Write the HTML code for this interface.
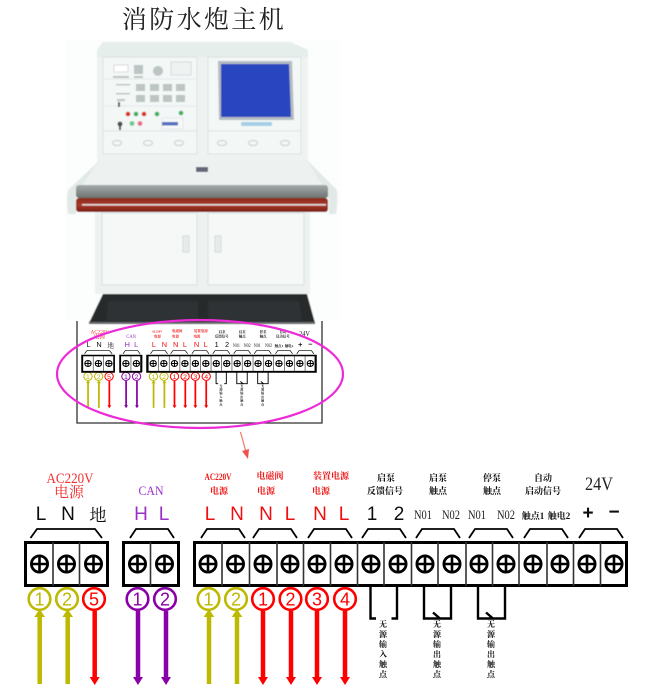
<!DOCTYPE html>
<html><head><meta charset="utf-8"><style>
html,body{margin:0;padding:0;background:#fff;width:650px;height:696px;overflow:hidden}
svg{display:block}
.s{font-family:"Liberation Serif","Noto Serif CJK SC",serif}
.a{font-family:"Liberation Sans","Noto Sans CJK SC",sans-serif}
</style></head><body>
<svg width="650" height="696" viewBox="0 0 650 696" xmlns="http://www.w3.org/2000/svg">
<defs>
<filter id="b1" x="-5%" y="-5%" width="110%" height="110%"><feGaussianBlur stdDeviation="0.6"/></filter>
<filter id="b2" x="-5%" y="-5%" width="110%" height="110%"><feGaussianBlur stdDeviation="0.35"/></filter>
<filter id="b3" x="-2%" y="-2%" width="104%" height="104%"><feGaussianBlur stdDeviation="0.3"/></filter>
<linearGradient id="red" x1="0" y1="0" x2="0" y2="1"><stop offset="0" stop-color="#8a2a1c"/><stop offset=".5" stop-color="#a83a28"/><stop offset="1" stop-color="#7a2016"/></linearGradient>
<linearGradient id="glass" x1="0" y1="0" x2="0" y2="1"><stop offset="0" stop-color="#a4abaa"/><stop offset="1" stop-color="#6c7371"/></linearGradient>
<g id="sc"><circle r="8.100" fill="none" stroke="#000" stroke-width="2.800"/><path d="M-8 0H8M0-8V8" stroke="#000" stroke-width="2.600"/></g>
<path id="br" d="M0 9L6 0H38L44 9" fill="none" stroke="#000" stroke-width="1.800"/>

<g id="d">
<g class="s" text-anchor="middle">
<text x="70" y="483" font-size="15" fill="#f03030" textLength="47" lengthAdjust="spacingAndGlyphs">AC220V</text>
<text x="69" y="497" font-size="15" fill="#f03030">电源</text>
<text x="151" y="495" font-size="13" fill="#9b30c8" textLength="25" lengthAdjust="spacingAndGlyphs">CAN</text>
<g font-size="9" fill="#f01818" font-weight="bold">
<text x="218" y="480" textLength="27" lengthAdjust="spacingAndGlyphs">AC220V</text>
<text x="219" y="494">电源</text>
<text x="270" y="479">电磁阀</text>
<text x="266" y="494">电源</text>
<text x="331" y="479">装置电源</text>
<text x="321" y="494">电源</text>
</g>
<g font-size="9" fill="#111" font-weight="bold">
<text x="386" y="481">启泵</text><text x="385" y="494">反馈信号</text>
<text x="438" y="481">启泵</text><text x="438" y="494">触点</text>
<text x="492" y="481">停泵</text><text x="492" y="494">触点</text>
<text x="543" y="481">自动</text><text x="543" y="494">启动信号</text>
</g>
<text x="599" y="490" font-size="19" fill="#222" textLength="28" lengthAdjust="spacingAndGlyphs">24V</text>
<text x="98" y="521" font-size="17" fill="#111">地</text>
<g font-size="13" fill="#222">
<text x="423" y="519" textLength="18" lengthAdjust="spacingAndGlyphs">N01</text>
<text x="451" y="519" textLength="18" lengthAdjust="spacingAndGlyphs">N02</text>
<text x="477" y="519" textLength="18" lengthAdjust="spacingAndGlyphs">N01</text>
<text x="506" y="519" textLength="18" lengthAdjust="spacingAndGlyphs">N02</text>
</g>
<g font-size="9" fill="#111" font-weight="bold">
<text x="533" y="519">触点1</text><text x="559" y="519">触电2</text>
</g>
</g>
<g class="a" text-anchor="middle" font-size="19">
<g fill="#111"><text x="41" y="520">L</text><text x="68" y="520">N</text><text x="372" y="520">1</text><text x="399" y="520">2</text>
<text x="588" y="519" font-weight="bold">+</text><text x="614" y="518" font-weight="bold">−</text></g>
<g fill="#9b30c8"><text x="141" y="520">H</text><text x="164" y="520">L</text></g>
<g fill="#f01010"><text x="210" y="520">L</text><text x="237" y="520">N</text><text x="266" y="520">N</text><text x="290" y="520">L</text><text x="320" y="520">N</text><text x="344" y="520">L</text></g>
</g>
<path d="M30.500 538L37 529H95L102 538" fill="none" stroke="#000" stroke-width="1.800"/>
<use href="#br" x="130" y="529"/><use href="#br" x="201" y="529"/><use href="#br" x="253" y="529"/><use href="#br" x="308" y="529"/><use href="#br" x="362" y="529"/><use href="#br" x="416" y="529"/><use href="#br" x="469" y="529"/><use href="#br" x="524" y="529"/><use href="#br" x="579" y="529"/>
<g fill="#fff" stroke="#000" stroke-width="3">
<rect x="25.500" y="542.500" width="82" height="43"/>
<rect x="123.500" y="542.500" width="55" height="43"/>
<rect x="194.500" y="542.500" width="432" height="43"/>
</g>
<path d="M53 542V586M79.500 542V586M150.500 542V586M222 542V586M249.500 542V586M277 542V586M303.500 542V586M330.500 542V586M357.500 542V586M384 542V586M411.500 542V586M438 542V586M466 542V586M492.500 542V586M519 542V586M547 542V586M573.500 542V586M600.500 542V586" stroke="#333" stroke-width="1.600"/>
<use href="#sc" x="39.500" y="564"/><use href="#sc" x="66.500" y="564"/><use href="#sc" x="93.500" y="564"/>
<use href="#sc" x="137.500" y="564"/><use href="#sc" x="164.500" y="564"/>
<use href="#sc" x="208" y="564"/><use href="#sc" x="235.500" y="564"/><use href="#sc" x="263" y="564"/><use href="#sc" x="290" y="564"/><use href="#sc" x="317" y="564"/><use href="#sc" x="344" y="564"/><use href="#sc" x="371" y="564"/><use href="#sc" x="398" y="564"/><use href="#sc" x="425" y="564"/><use href="#sc" x="452" y="564"/><use href="#sc" x="479" y="564"/><use href="#sc" x="506" y="564"/><use href="#sc" x="533" y="564"/><use href="#sc" x="560" y="564"/><use href="#sc" x="587" y="564"/><use href="#sc" x="614" y="564"/>
<g fill="none" stroke-width="4.500">
<path d="M39.700 684V614M67.700 684V614M209 684V614M237 684V614" stroke="#bdb900"/>
<path d="M94.700 611V678M263 611V678M291 611V678M317 611V678M345 611V678" stroke="#ff0000"/>
<path d="M138 611V678M166 611V678" stroke="#8a00a8"/>
</g>
<g fill="#bdb900"><path d="M39.700 609L45 617H34.400ZM67.700 609L73 617H62.400ZM209 609L214.300 617H203.700ZM237 609L242.300 617H231.700Z"/></g>
<g fill="#ff0000"><path d="M94.700 685L89.700 677H99.700ZM263 685L258 677H268ZM291 685L286 677H296ZM317 685L312 677H322ZM345 685L340 677H350Z"/></g>
<g fill="#8a00a8"><path d="M138 685L133 677H143ZM166 685L161 677H171Z"/></g>
<g fill="#fff" stroke-width="2.600">
<g stroke="#bdb900"><circle cx="39.500" cy="599" r="10.800"/><circle cx="67" cy="599" r="10.800"/><circle cx="208.500" cy="599" r="10.800"/><circle cx="236" cy="599" r="10.800"/></g>
<g stroke="#8a00a8"><circle cx="137.500" cy="599" r="10.800"/><circle cx="165" cy="599" r="10.800"/></g>
<g stroke="#ff0000"><circle cx="94" cy="599" r="10.800"/><circle cx="263" cy="599" r="10.800"/><circle cx="290.500" cy="599" r="10.800"/><circle cx="317" cy="599" r="10.800"/><circle cx="345" cy="599" r="10.800"/></g>
</g>
<g class="a" text-anchor="middle" font-size="18">
<g fill="#bdb900"><text x="39.500" y="605.500">1</text><text x="67" y="605.500">2</text><text x="208.500" y="605.500">1</text><text x="236" y="605.500">2</text></g>
<g fill="#8a00a8"><text x="137.500" y="605.500">1</text><text x="165" y="605.500">2</text></g>
<g fill="#ff0000"><text x="94" y="605.500">5</text><text x="263" y="605.500">1</text><text x="290.500" y="605.500">2</text><text x="317" y="605.500">3</text><text x="345" y="605.500">4</text></g>
</g>
<g fill="none" stroke="#000" stroke-width="2.400">
<path d="M370.500 586V618.500H376M397 586V618.500H391.500"/>
<path d="M424 586V618.500H451V586M433 612.500L440 618.500"/>
<path d="M478 586V618.500H505V586M486 612.500L493 618.500"/>
</g>
<g class="s" text-anchor="middle" font-size="8" fill="#111" font-weight="bold">
<text x="383" y="627">无</text><text x="383" y="637">源</text><text x="383" y="647">输</text><text x="383" y="657">入</text><text x="383" y="667">触</text><text x="383" y="677">点</text>
<text x="437" y="627">无</text><text x="437" y="637">源</text><text x="437" y="647">输</text><text x="437" y="657">出</text><text x="437" y="667">触</text><text x="437" y="677">点</text>
<text x="491" y="627">无</text><text x="491" y="637">源</text><text x="491" y="647">输</text><text x="491" y="657">出</text><text x="491" y="667">触</text><text x="491" y="677">点</text>
</g>
</g>
</defs>

<text class="s" x="204" y="28" text-anchor="middle" font-size="25" fill="#222" letter-spacing="2.400">消防水炮主机</text>

<g filter="url(#b1)">
<rect x="66" y="40" width="274" height="280" fill="#fcfdfd"/>
<path d="M103 42H290L308 50V165H97V50Z" fill="#eef3f2"/>
<path d="M97 50L103 42H290L308 50V57H97Z" fill="#e6eeec"/>
<rect x="103" y="57" width="94" height="97" fill="#f3f7f6" stroke="#d2dbd9" stroke-width=".7"/>
<rect x="208" y="57" width="93" height="97" fill="#f3f7f6" stroke="#d2dbd9" stroke-width=".7"/>
<path d="M103 131H197M208 131H301" stroke="#d8e0de" stroke-width=".8"/>
<path d="M105 79H195M105 106H195" stroke="#dde4e2" stroke-width=".7"/>
<path d="M218 61H292L294 120H219Z" fill="#b4bcc2"/>
<path d="M221 64H289L291 117H221Z" fill="#2b45c0"/>
<rect x="241" y="122" width="31" height="4" rx="1.500" fill="#a5cfe6"/>
<rect x="114" y="65" width="14" height="7" fill="#fff" stroke="#bbb" stroke-width=".5"/>
<rect x="171" y="62" width="20" height="13" fill="#eef2f1" stroke="#c4cccb" stroke-width=".6"/>
<g fill="#bcc5c3">
<rect x="134" y="65" width="9" height="9"/><rect x="153" y="66" width="10" height="10" rx="5"/>
<rect x="113" y="76" width="16" height="2"/><rect x="134" y="76" width="9" height="2"/>
<rect x="116" y="84" width="14" height="1.500"/><rect x="116" y="93" width="14" height="1.500"/>
<rect x="136" y="84" width="9" height="7"/><rect x="150" y="84" width="9" height="7"/><rect x="163" y="84" width="9" height="7"/><rect x="176" y="84" width="9" height="7"/>
<rect x="136" y="95" width="9" height="7"/><rect x="150" y="95" width="9" height="7"/><rect x="163" y="95" width="9" height="7"/><rect x="176" y="95" width="9" height="7"/>
<rect x="117" y="99" width="8" height="2"/>
</g>
<rect x="118" y="102" width="2" height="5" fill="#555"/>
<circle cx="128" cy="114" r="2.300" fill="#d83028"/><circle cx="136" cy="114" r="2.300" fill="#40b060"/><circle cx="144" cy="114" r="2.300" fill="#d83028"/>
<circle cx="157" cy="114" r="2.300" fill="#40b060"/><circle cx="181" cy="113" r="2.300" fill="#40b060"/>
<circle cx="132" cy="123.500" r="2.400" fill="#70c890"/><circle cx="140" cy="123.500" r="2.400" fill="#e87088"/>
<circle cx="120" cy="124" r="2.500" fill="#555"/><rect x="119" y="125" width="2" height="5" fill="#444"/>
<rect x="162" y="118" width="21" height="11" fill="#f6f9f8" stroke="#ccd" stroke-width=".4"/>
<rect x="162" y="122" width="16" height="3.500" fill="#5570c0"/>
<g fill="none" stroke="#c4cecc" stroke-width="1">
<ellipse cx="117" cy="143" rx="4.500" ry="2.500"/><ellipse cx="148" cy="143" rx="4.500" ry="2.500"/><ellipse cx="179" cy="143" rx="4.500" ry="2.500"/>
<ellipse cx="222" cy="143" rx="4.500" ry="2.500"/><ellipse cx="253" cy="143" rx="4.500" ry="2.500"/><ellipse cx="285" cy="143" rx="4.500" ry="2.500"/>
</g>
<rect x="95" y="212" width="215" height="82" fill="#edf2f1"/>
<rect x="102" y="213" width="95" height="72" fill="#f5f8f7" stroke="#ced7d5" stroke-width=".7"/>
<rect x="208" y="213" width="96" height="72" fill="#f5f8f7" stroke="#ced7d5" stroke-width=".7"/>
<rect x="183" y="236" width="6" height="16" fill="#e6ecea" stroke="#c4cecc" stroke-width=".6"/>
<rect x="215" y="236" width="6" height="16" fill="#e6ecea" stroke="#c4cecc" stroke-width=".6"/>
<path d="M100 160H307L337 190Q338 200 336 214H329V198H76V214H68Q66 200 68 190Z" fill="#e2eae8"/>
<path d="M100 160H307L322 185H82Z" fill="#edf2f0"/>
<rect x="196" y="167" width="12" height="5" fill="#667"/>
<rect x="76" y="185" width="252" height="13" rx="3" fill="url(#glass)"/>
<rect x="76" y="198" width="252" height="14" rx="3" fill="url(#red)"/>
<rect x="82" y="204" width="244" height="1.600" fill="#e4d8d8"/>
<path d="M103 294H307L315 323H89Z" fill="#262a2b"/>
<path d="M108 301H198V321H106ZM208 301H299L302 321H208Z" fill="#2f3334"/>
<rect x="89" y="322" width="226" height="2" fill="#6a6d6e"/>
</g>

<g filter="url(#b2)">
<path d="M77 321V423H322V321" fill="none" stroke="#333" stroke-width="1.300"/>
<g transform="translate(72.700 154.800) scale(.387 .37)"><use href="#d"/></g>
<g fill="none" stroke="#000" stroke-width="1.500">
<rect x="82" y="355.500" width="32" height="16.500"/><rect x="120" y="355.500" width="21" height="16.500"/><rect x="147" y="355.500" width="169" height="16.500"/>
</g>
</g>
<ellipse cx="200" cy="374" rx="143" ry="54" fill="none" stroke="#ee2bd8" stroke-width="2.200" filter="url(#b3)"/>

<path d="M240.500 432L246 452" stroke="#f08070" stroke-width="1.300" fill="none"/>
<path d="M248 459L242 451L249 449Z" fill="#f05050"/>

<g filter="url(#b3)"><use href="#d"/></g>
</svg>
</body></html>
